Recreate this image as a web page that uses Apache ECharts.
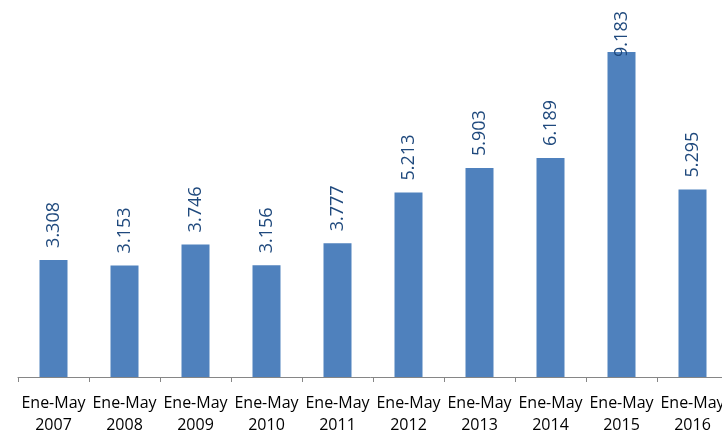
<!DOCTYPE html>
<html>
<head>
<meta charset="utf-8">
<script src="https://cdn.jsdelivr.net/npm/echarts@6/dist/echarts.min.js"></script>
<style>
  html, body { margin: 0; padding: 0; background: #fff; }
  #chart { width: 722px; height: 432px; }
</style>
</head>
<body>
<div id="chart"></div>
<script>
const periods = ['Ene-May\n2007', 'Ene-May\n2008', 'Ene-May\n2009', 'Ene-May\n2010', 'Ene-May\n2011',
  'Ene-May\n2012', 'Ene-May\n2013', 'Ene-May\n2014', 'Ene-May\n2015', 'Ene-May\n2016'];
const values = [3.308, 3.153, 3.746, 3.156, 3.777, 5.213, 5.903, 6.189, 9.183, 5.295];

const chart = echarts.init(document.getElementById('chart'));

// tallest bar: label gets pushed down into the bar so it stays on the page
const barData = values.map(v => (v > 9 ? { value: v, label: { distance: -5 } } : v));

chart.setOption({
  animation: false,
  // plot runs past the right edge, the last label is cut like in the original
  grid: { left: 18, width: 710, top: 23, bottom: 55, outerBoundsMode: 'none', containLabel: false },
  xAxis: {
    type: 'category',
    data: periods,
    axisLine: { lineStyle: { color: '#868686', width: 1 } },
    axisTick: { show: true, length: 5, lineStyle: { color: '#868686' } },
    axisLabel: {
      interval: 0,
      margin: 15,
      color: '#000',
      fontFamily: 'Open Sans',
      fontSize: 16,
      lineHeight: 22
    }
  },
  yAxis: {
    type: 'value',
    min: 0,
    max: 10,
    show: false,
    splitLine: { show: false }
  },
  series: [
    {
      type: 'bar',
      data: barData,
      barWidth: 28,
      itemStyle: { color: '#4F81BD' },
      label: {
        show: true,
        position: 'top',
        rotate: 90,
        align: 'left',
        verticalAlign: 'middle',
        distance: 12,
        color: '#1F497D',
        fontFamily: 'Open Sans',
        fontSize: 18,
        formatter: p => p.value.toFixed(3)
      }
    }
  ]
});
</script>
</body>
</html>
